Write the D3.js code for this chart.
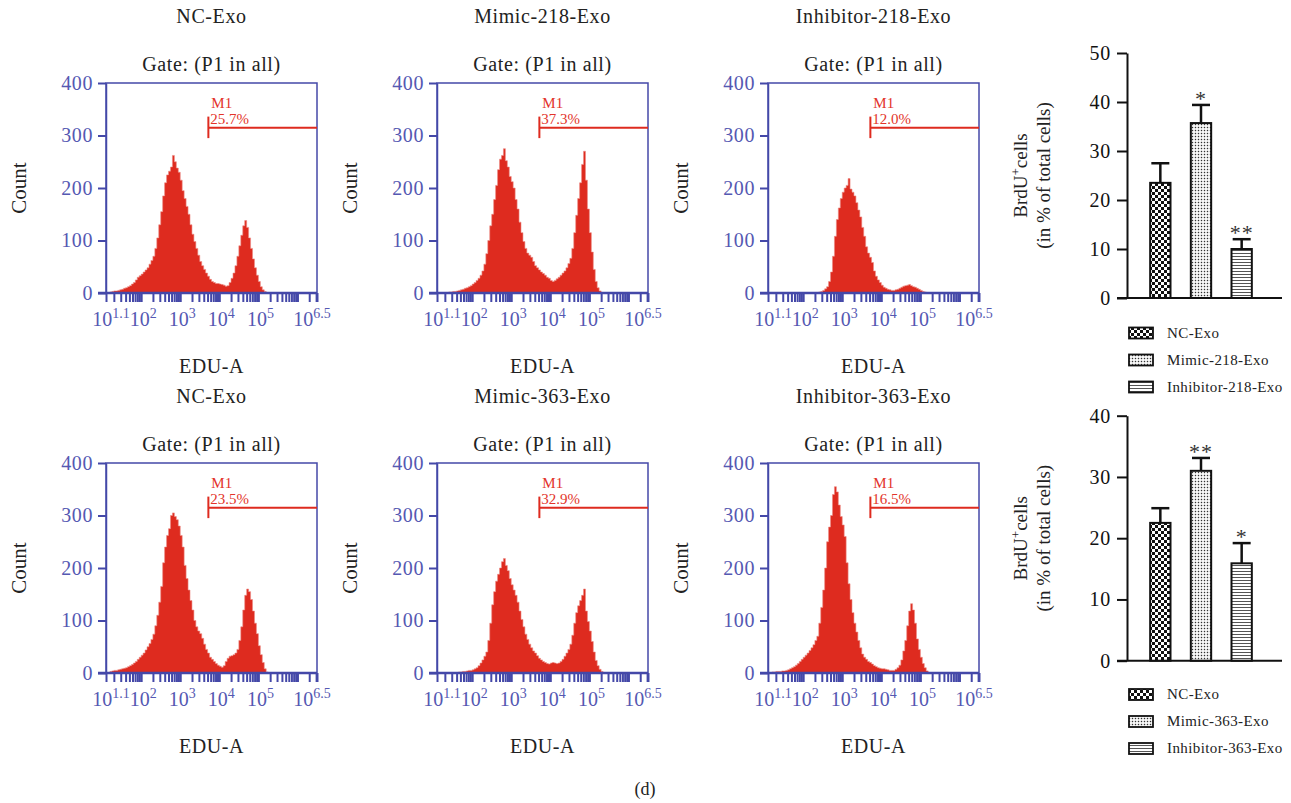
<!DOCTYPE html>
<html><head><meta charset="utf-8">
<script src="https://cdn.jsdelivr.net/npm/d3@7"></script>
<style>
body{margin:0;background:#fff}
text{font-family:"Liberation Serif","DejaVu Serif",serif}
</style>
</head><body>
<svg id="c" width="1291" height="803"></svg>
<script>
// ---------------- DATA ----------------
const histTitles = ["NC-Exo", "Mimic-218-Exo", "Inhibitor-218-Exo", "NC-Exo", "Mimic-363-Exo", "Inhibitor-363-Exo"];
const gatePercents = ["25.7%", "37.3%", "12.0%", "23.5%", "32.9%", "16.5%"];
const gateTitle = "Gate: (P1 in all)";
const xAxisTitle = "EDU-A";
const yAxisTitle = "Count";
const yTickValues = [0, 100, 200, 300, 400];
const xLabelExps = [1.1, 2, 3, 4, 5, 6.5];
const xMinExp = 1.1, xMaxExp = 6.5;
const gateExp = 3.72, gateCount = 315;
// histogram bins: log10 start 1.20, step 0.05
const binStart = 1.2, binStep = 0.05;
const countsNC218 = [2,3,4,4,5,6,7,9,10,12,14,17,20,25,30,33,36,40,44,48,55,62,70,85,105,130,155,185,210,225,232,240,262,250,238,230,215,195,180,165,150,130,112,98,85,72,60,52,45,38,32,26,22,20,18,18,17,16,15,13,14,20,28,38,52,70,90,110,128,138,125,105,85,65,48,34,22,12,6,3,1];
const countsMimic218 = [0,0,1,1,2,2,3,3,4,5,6,7,9,10,12,14,17,20,24,28,34,42,55,75,100,128,150,178,205,235,255,262,275,252,240,222,212,200,178,160,135,115,98,85,76,72,68,60,52,48,44,40,37,34,30,28,24,22,24,27,30,34,38,42,48,56,66,85,115,148,180,210,245,270,215,160,115,78,45,22,10,4,1];
const countsInhib218 = [0,0,0,0,0,0,0,0,0,0,0,0,0,0,0,0,0,0,0,0,0,0,1,1,2,3,5,8,12,22,40,70,108,140,162,180,192,200,205,218,198,192,185,172,158,145,125,108,88,76,68,58,42,32,25,20,15,11,9,7,6,5,5,6,7,9,11,13,14,15,16,14,12,11,9,7,5,3,2,1,0];
const countsNC363 = [3,4,5,5,6,7,8,9,10,12,14,16,19,22,26,30,34,38,44,50,56,64,74,90,110,135,165,210,240,262,275,300,305,298,292,280,262,240,205,180,158,138,120,100,88,80,75,66,55,45,38,30,26,22,18,15,13,11,14,22,28,32,33,35,38,45,62,88,120,148,160,155,140,118,95,75,52,35,20,8,2];
const countsMimic363 = [0,0,0,0,0,0,0,0,1,2,2,3,3,4,5,5,6,8,10,14,19,25,32,40,62,95,130,155,175,188,200,212,218,205,195,180,168,158,148,135,118,102,88,74,64,55,48,42,38,33,28,25,22,20,18,17,19,20,19,18,19,22,26,32,38,45,55,72,95,115,128,138,148,160,118,98,80,60,40,24,14,7,3,1];
const countsInhib363 = [2,2,3,3,3,4,4,5,6,8,10,12,15,18,22,26,30,34,38,43,48,54,62,70,95,125,158,200,250,278,300,340,355,345,320,298,282,260,210,170,140,115,95,78,62,48,36,30,26,22,20,17,14,12,10,9,8,8,7,6,5,5,5,7,10,15,25,42,62,90,118,132,120,95,65,45,30,18,10,4,1];

const bar218Cats = ["NC-Exo", "Mimic-218-Exo", "Inhibitor-218-Exo"];
const bar218Means = [23.5, 35.7, 10.0];
const bar218Errs = [4.0, 3.7, 2.0];
const bar218Sig = ["", "*", "**"];
const bar218Ticks = [0, 10, 20, 30, 40, 50];
const bar363Cats = ["NC-Exo", "Mimic-363-Exo", "Inhibitor-363-Exo"];
const bar363Means = [22.5, 31.0, 15.9];
const bar363Errs = [2.4, 2.1, 3.3];
const bar363Sig = ["", "**", "*"];
const bar363Ticks = [0, 10, 20, 30, 40];
const barPatterns = ["checker", "dots", "hlines"];
const panelLabel = "(d)";

// ---------------- STYLE / LAYOUT ----------------
const BLUE = "#4448a8", BLUE_TXT = "#5558b2", RED = "#de2b1f", RED_TXT = "#e3342a", DARK = "#222";
const histLeft0 = 106, colStep = 331, histTop0 = 83, rowStep = 380, histW = 211, histH = 210;

const svg = d3.select("#c");
const defs = svg.append("defs");
const pc = defs.append("pattern").attr("id", "checker").attr("patternUnits", "userSpaceOnUse").attr("width", 6).attr("height", 6);
pc.append("rect").attr("width", 6).attr("height", 6).attr("fill", "#fff");
pc.append("rect").attr("width", 3).attr("height", 3).attr("fill", "#111");
pc.append("rect").attr("x", 3).attr("y", 3).attr("width", 3).attr("height", 3).attr("fill", "#111");
const pd = defs.append("pattern").attr("id", "dots").attr("patternUnits", "userSpaceOnUse").attr("width", 3).attr("height", 3);
pd.append("rect").attr("width", 3).attr("height", 3).attr("fill", "#fff");
pd.append("rect").attr("x", 0.8).attr("y", 0.8).attr("width", 1.4).attr("height", 1.4).attr("fill", "#333");
const ph = defs.append("pattern").attr("id", "hlines").attr("patternUnits", "userSpaceOnUse").attr("width", 6).attr("height", 3);
ph.append("rect").attr("width", 6).attr("height", 3).attr("fill", "#fff");
ph.append("rect").attr("y", 1).attr("width", 6).attr("height", 1).attr("fill", "#555");

const allCounts = [countsNC218, countsMimic218, countsInhib218, countsNC363, countsMimic363, countsInhib363];

const x = d3.scaleLog().domain([10 ** xMinExp, 10 ** xMaxExp]).range([0, histW]);
const y = d3.scaleLinear().domain([0, 400]).range([histH, 0]);

const xTickVals = [10 ** xMinExp];
for (let d = 1; d <= 6; d++) for (let m = 1; m <= 9; m++) {
  const v = m * 10 ** d;
  if (v > 10 ** xMinExp && v < 10 ** xMaxExp) xTickVals.push(v);
}
xTickVals.push(10 ** xMaxExp);

const area = d3.area().x(d => x(d[0])).y0(y(0)).y1(d => y(d[1])).curve(d3.curveStepAfter);

allCounts.forEach((counts, k) => {
  const col = k % 3, row = Math.floor(k / 3);
  const g = svg.append("g").attr("transform", `translate(${histLeft0 + col * colStep},${histTop0 + row * rowStep})`);
  const pts = counts.map((c, i) => [10 ** (binStart + i * binStep), c]);
  pts.push([10 ** (binStart + counts.length * binStep), 0]);
  g.append("path").datum(pts).attr("d", area).attr("fill", RED).attr("stroke", "#ec8c84").attr("stroke-width", 0.6);

  g.append("rect").attr("width", histW).attr("height", histH).attr("fill", "none").attr("stroke", BLUE).attr("stroke-width", 1.5);

  const ya = g.append("g").call(d3.axisLeft(y).tickValues(yTickValues).tickSize(8).tickSizeOuter(0).tickPadding(5));
  ya.select(".domain").attr("stroke", BLUE).attr("stroke-width", 1.5);
  ya.selectAll(".tick line").attr("stroke", BLUE).attr("stroke-width", 2);
  ya.selectAll(".tick text").attr("fill", BLUE_TXT).style("font-size", "20px").style("font-family", "Liberation Serif").attr("letter-spacing", "0.6");

  const xa = g.append("g").attr("transform", `translate(0,${histH})`)
    .call(d3.axisBottom(x).tickValues(xTickVals).tickSize(9).tickSizeOuter(0).tickFormat(""));
  xa.select(".domain").attr("stroke", BLUE).attr("stroke-width", 2.5).attr("d", `M-8,0H${histW}`);
  xa.selectAll(".tick line").attr("stroke", BLUE).attr("stroke-width", 2);

  xLabelExps.forEach((e, i) => {
    const dx = i === 0 ? 5 : (i === xLabelExps.length - 1 ? -5 : 2);
    const t = g.append("text").attr("x", x(10 ** e) + dx).attr("y", histH + 33)
      .attr("text-anchor", "middle").attr("fill", BLUE_TXT).style("font-size", "20px");
    t.append("tspan").text("10");
    t.append("tspan").attr("dy", -8).style("font-size", "14px").text(String(e));
  });

  const gx = x(10 ** gateExp), gy = y(gateCount);
  g.append("line").attr("x1", gx).attr("x2", gx).attr("y1", y(gateCount + 21)).attr("y2", y(gateCount - 20)).attr("stroke", RED).attr("stroke-width", 2);
  g.append("line").attr("x1", gx).attr("x2", histW).attr("y1", gy).attr("y2", gy).attr("stroke", RED).attr("stroke-width", 2);
  g.append("text").attr("x", gx + 3).attr("y", gy - 20).attr("fill", RED_TXT).style("font-size", "15px").text("M1");
  g.append("text").attr("x", gx + 2).attr("y", gy - 4).attr("fill", RED_TXT).style("font-size", "15px").text(gatePercents[k]);

  g.append("text").attr("x", histW / 2).attr("y", -60).attr("text-anchor", "middle").attr("fill", DARK)
    .style("font-size", "20px").attr("letter-spacing", "0.6").text(histTitles[k]);
  g.append("text").attr("x", histW / 2).attr("y", -12).attr("text-anchor", "middle").attr("fill", DARK)
    .style("font-size", "20px").attr("letter-spacing", "0.6").text(gateTitle);
  g.append("text").attr("x", histW / 2).attr("y", histH + 80).attr("text-anchor", "middle").attr("fill", DARK)
    .style("font-size", "20px").attr("letter-spacing", "0.6").text(xAxisTitle);
  g.append("text").attr("transform", `translate(-80,${histH / 2}) rotate(-90)`).attr("text-anchor", "middle").attr("fill", DARK)
    .style("font-size", "21px").text(yAxisTitle);
});

// ---------------- BAR CHARTS ----------------
function barChart(cats, means, errs, sig, ticks, yTop, yBottom, legendTop) {
  const axX = 1127, axRight = 1282;
  const yb = d3.scaleLinear().domain([0, d3.max(ticks)]).range([yBottom, yTop]);
  const xb = d3.scaleBand().domain(cats).range([1140, 1262]).paddingInner(0.5).paddingOuter(0.25);
  const g = svg.append("g");
  const ax = g.append("g").attr("transform", `translate(${axX},0)`)
    .call(d3.axisLeft(yb).tickValues(ticks).tickSize(10).tickSizeOuter(0).tickPadding(6));
  ax.select(".domain").attr("stroke", "#111").attr("stroke-width", 2);
  ax.selectAll(".tick line").attr("stroke", "#111").attr("stroke-width", 2);
  ax.selectAll(".tick text").attr("fill", "#111").style("font-size", "20px").style("font-family", "Liberation Serif").attr("letter-spacing", "0.8");
  g.append("line").attr("x1", axX - 10).attr("x2", axRight).attr("y1", yb(0)).attr("y2", yb(0)).attr("stroke", "#111").attr("stroke-width", 2);

  cats.forEach((c, i) => {
    const bx = xb(c), bw = xb.bandwidth(), cx = bx + bw / 2;
    const top = yb(means[i]), et = yb(means[i] + errs[i]);
    g.append("line").attr("x1", cx).attr("x2", cx).attr("y1", top).attr("y2", et).attr("stroke", "#111").attr("stroke-width", 2.5);
    g.append("line").attr("x1", cx - 9).attr("x2", cx + 9).attr("y1", et).attr("y2", et).attr("stroke", "#111").attr("stroke-width", 2.5);
    g.append("rect").attr("x", bx).attr("y", top).attr("width", bw).attr("height", yb(0) - top)
      .attr("fill", `url(#${barPatterns[i]})`).attr("stroke", "#111").attr("stroke-width", 2);
    if (sig[i]) g.append("text").attr("x", cx).attr("y", et + 1).attr("text-anchor", "middle").attr("fill", "#333")
      .style("font-size", "22px").attr("letter-spacing", "1").text(sig[i]);
  });

  const cy = (yTop + yBottom) / 2;
  const t1 = g.append("text").attr("transform", `translate(1027,${cy}) rotate(-90)`).attr("text-anchor", "middle").attr("fill", DARK).style("font-size", "19px");
  t1.append("tspan").text("BrdU");
  t1.append("tspan").attr("dy", -7).style("font-size", "13px").text("+");
  t1.append("tspan").attr("dy", 7).text("cells");
  g.append("text").attr("transform", `translate(1050,${cy}) rotate(-90)`).attr("text-anchor", "middle").attr("fill", DARK)
    .style("font-size", "19px").text("(in % of total cells)");

  cats.forEach((c, i) => {
    const ly = legendTop + i * 27;
    g.append("rect").attr("x", 1129).attr("y", ly).attr("width", 24).attr("height", 11)
      .attr("fill", `url(#${barPatterns[i]})`).attr("stroke", "#111").attr("stroke-width", 1.8);
    g.append("text").attr("x", 1167).attr("y", ly + 10).attr("fill", DARK).style("font-size", "15px").attr("letter-spacing", "0.4").text(c);
  });
}
barChart(bar218Cats, bar218Means, bar218Errs, bar218Sig, bar218Ticks, 53, 298, 327.5);
barChart(bar363Cats, bar363Means, bar363Errs, bar363Sig, bar363Ticks, 415.7, 660.7, 689);

svg.append("text").attr("x", 645).attr("y", 795).attr("text-anchor", "middle").attr("fill", DARK).style("font-size", "18px").text(panelLabel);
</script>
</body></html>
